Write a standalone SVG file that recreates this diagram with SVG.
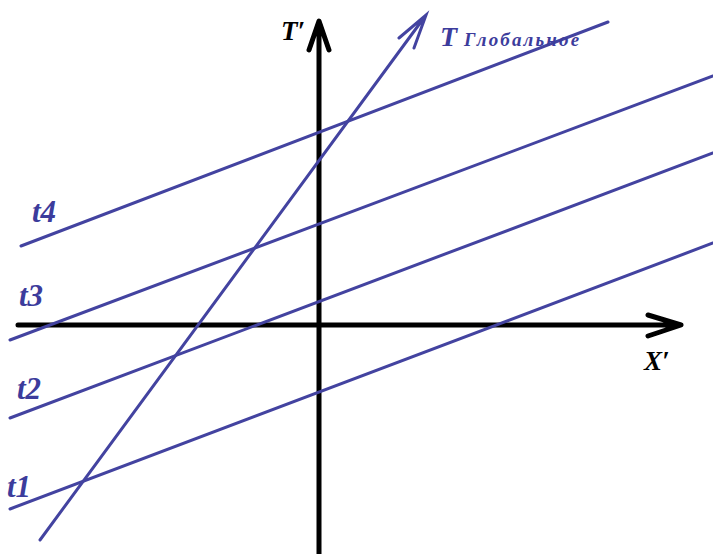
<svg xmlns="http://www.w3.org/2000/svg" width="713" height="554" viewBox="0 0 713 554">
<style>
.axis{stroke:#000;stroke-width:5;fill:none;stroke-linecap:round;stroke-linejoin:round}
.blue{stroke:#4343a0;stroke-width:3;fill:none;stroke-linecap:round}
.lbl{font-family:"Liberation Serif","DejaVu Serif",serif;font-weight:bold;font-style:italic}
.bl{fill:#3c3c9c}
.bk{fill:#000}
</style>
<rect width="713" height="554" fill="#fff"/>
<g id="axes">
<path class="axis" d="M18 325 H679 M648 315 L681 325 L648 336"/>
<path class="axis" d="M319 554 V22 M309 50 L319 21 L329 50"/>
</g>
<g id="connectors">
<line class="blue" x1="21" y1="246" x2="608" y2="22"/>
<line class="blue" x1="10" y1="340" x2="713" y2="76"/>
<line class="blue" x1="10" y1="418" x2="713" y2="153"/>
<line class="blue" x1="10" y1="509" x2="713" y2="243"/>
<path class="blue" d="M40 540 L426 15 M399 38 L426 15 L414 48"/>
</g>
<g id="labels">
<text class="lbl bk" x="281" y="40" font-size="27">T′</text>
<text class="lbl bk" x="644" y="370" font-size="27">X′</text>
<text class="lbl bl" x="440" y="46" font-size="28">T <tspan font-size="19" textLength="115" lengthAdjust="spacing">Глобальное</tspan></text>
<text class="lbl bl" x="32" y="222" font-size="31">t4</text>
<text class="lbl bl" x="19" y="306" font-size="31">t3</text>
<text class="lbl bl" x="17" y="399" font-size="31">t2</text>
<text class="lbl bl" x="7" y="497" font-size="31">t1</text>
</g>
</svg>
